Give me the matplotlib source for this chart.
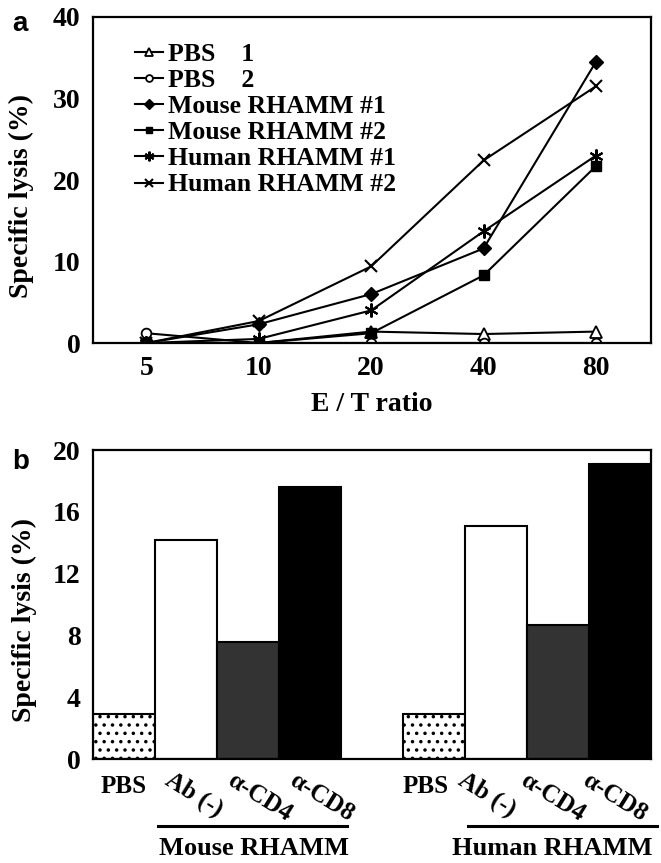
import matplotlib
matplotlib.use("Agg")
import matplotlib.pyplot as plt
import numpy as np

plt.rcParams['font.family'] = ['Liberation Serif', 'DejaVu Serif']
plt.rcParams['font.weight'] = 'bold'
plt.rcParams['hatch.linewidth'] = 1.3

# panel a data
et_ratio = ['5', '10', '20', '40', '80']
pbs_1 = [0.0, 0.0, 1.4, 1.1, 1.4]
pbs_2 = [1.2, 0.0, 0.0, 0.0, 0.0]
mouse_1 = [0.0, 2.3, 6.0, 11.6, 34.5]
mouse_2 = [0.0, 0.0, 1.2, 8.3, 21.7]
human_1 = [0.0, 0.5, 4.0, 13.7, 23.0]
human_2 = [0.0, 2.7, 9.4, 22.4, 31.5]

# panel b data
bar_labels = ['PBS', 'Ab (-)', 'α-CD4', 'α-CD8']
mouse_bars = [2.9, 14.2, 7.6, 17.6]
human_bars = [2.9, 15.1, 8.7, 19.1]
groups = ['Mouse RHAMM', 'Human RHAMM']

fig = plt.figure(figsize=(6.61, 8.63), dpi=100)
W, H = 661, 863

def box(l, t, r, b):
    return [l / W, 1 - b / H, (r - l) / W, (b - t) / H]

# ---------- a ----------
ax1 = fig.add_axes(box(93, 17, 651, 343))
x = np.arange(len(et_ratio))
lw = 1.5
ax1.plot(x, pbs_1, color='k', lw=lw, marker='^', ms=8, mfc='white', mec='k', mew=1.3, label='PBS    1')
ax1.plot(x, pbs_2, color='k', lw=lw, marker='o', ms=7, mfc='white', mec='k', mew=1.3, label='PBS    2')
ax1.plot(x, mouse_1, color='k', lw=lw, marker='D', ms=7, label='Mouse RHAMM #1')
ax1.plot(x, mouse_2, color='k', lw=lw, marker='s', ms=7, label='Mouse RHAMM #2')
ax1.plot(x, human_1, color='k', lw=lw, marker=(6, 2, 0), ms=10, mew=1.5, label='Human RHAMM #1')
ax1.plot(x, human_2, color='k', lw=lw, marker='x', ms=9, mew=1.5, label='Human RHAMM #2')
ax1.set_xlim(-0.475, 4.49)
ax1.set_ylim(0, 40)
ax1.set_xticks(x)
ax1.set_xticklabels(et_ratio)
ax1.set_yticks([0, 10, 20, 30, 40])
ax1.tick_params(length=0, labelsize=20)
ax1.tick_params(axis='x', pad=9)
ax1.tick_params(axis='y', pad=9)
for s in ax1.spines.values():
    s.set_linewidth(1.6)
ax1.set_xlabel('E / T ratio', fontsize=20, fontweight='bold', labelpad=8)
ax1.set_ylabel('Specific lysis (%)', fontsize=20, fontweight='bold')
ax1.yaxis.set_label_coords(-0.105, 0.45)
leg = ax1.legend(loc='upper left', bbox_to_anchor=(0.075, 0.92), frameon=False,
                 fontsize=18.5, handlelength=1.1, handletextpad=0.2, labelspacing=0.12,
                 markerscale=0.7, borderaxespad=0, borderpad=0)
fig.text(12 / W, 1 - 24 / H, 'a', fontsize=20, fontweight='bold', family='Liberation Sans', va='center')

# ---------- b ----------
ax2 = fig.add_axes(box(93, 450, 651, 759))
n = len(bar_labels)
pos_m = np.arange(n)
pos_h = np.arange(n) + n + 1
faces = ['white', 'white', '#333333', 'black']
hatches = ['..', None, None, None]
for pos, vals in ((pos_m, mouse_bars), (pos_h, human_bars)):
    for p, v, fc, ht in zip(pos, vals, faces, hatches):
        ax2.bar(p, v, width=1.0, color=fc, edgecolor='k', linewidth=1.5, hatch=ht)
ax2.set_xlim(-0.5, 2 * n + 0.5)
ax2.set_ylim(0, 20)
ax2.set_yticks([0, 4, 8, 12, 16, 20])
ax2.set_xticks([])
ax2.tick_params(length=0, labelsize=20)
ax2.tick_params(axis='y', pad=9)
for s in ax2.spines.values():
    s.set_linewidth(1.6)
ax2.set_ylabel('Specific lysis (%)', fontsize=20, fontweight='bold')
ax2.yaxis.set_label_coords(-0.1, 0.45)

trans = ax2.get_xaxis_transform()
shifts = [(0.0, -0.2, 0.1), (-0.13, -0.48, -0.1)]  # (PBS label, rotated labels, group name) offsets
for grp, pos, (s0, s1, s2) in zip(groups, (pos_m, pos_h), shifts):
    for i, (p, lab) in enumerate(zip(pos, bar_labels)):
        if i == 0:
            ax2.text(p + s0, -0.09, lab, transform=trans, ha='center', va='center', fontsize=18)
        else:
            ax2.text(p + s1, -0.03, lab, transform=trans, ha='left', va='top', fontsize=18,
                     rotation=-32, rotation_mode='anchor')
    ax2.plot([pos[1] - 0.45, pos[-1] + 0.6], [-0.217, -0.217], color='k', lw=2.2,
             transform=trans, clip_on=False)
    ax2.text((pos[1] + pos[-1]) / 2 + s2, -0.328, grp, transform=trans, ha='center', va='bottom',
             fontsize=19)
fig.text(12 / W, 1 - 462 / H, 'b', fontsize=20, fontweight='bold', family='Liberation Sans', va='center')

fig.savefig('out.png', dpi=100)
